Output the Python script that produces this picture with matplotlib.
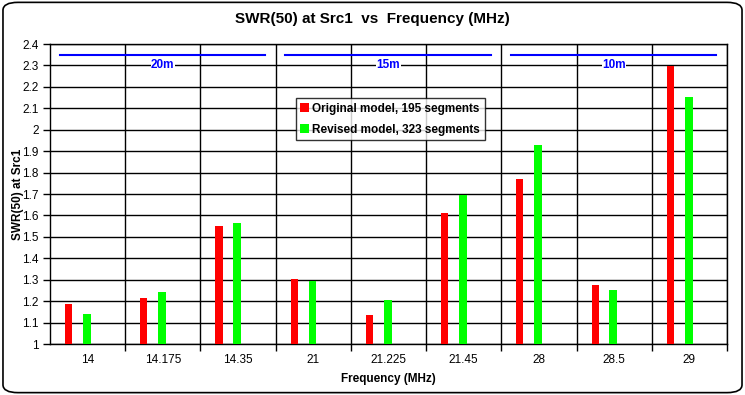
import numpy as np
import matplotlib.pyplot as plt
from matplotlib.patches import FancyBboxPatch

# --- DATA ---------------------------------------------------------------------
freqs    = ["14", "14.175", "14.35", "21", "21.225", "21.45", "28", "28.5", "29"]
original = [1.187, 1.215, 1.551, 1.303, 1.135, 1.611, 1.770, 1.275, 2.299]
revised  = [1.140, 1.243, 1.566, 1.296, 1.205, 1.697, 1.929, 1.252, 2.153]
bands    = ["20m", "15m", "10m"]
band_idx = [(0, 2), (3, 5), (6, 8)]

# --- STYLE --------------------------------------------------------------------
plt.rcParams["font.family"] = ["Liberation Sans", "DejaVu Sans"]

fig = plt.figure(figsize=(7.45, 3.95), dpi=100)
ax  = fig.add_axes([0.0671, 0.1291, 0.9087, 0.7595])

x = np.arange(len(freqs))
ax.bar(x - 0.253, [v - 1 for v in original], bottom=1, width=0.095,
       color="#FF0000", label="Original model, 195 segments", zorder=3)
ax.bar(x - 0.01, [v - 1 for v in revised], bottom=1, width=0.105,
       color="#00FF00", label="Revised model, 323 segments", zorder=3)

# band markers
for name, (i0, i1) in zip(bands, band_idx):
    ax.plot([i0 - 0.37, i1 + 0.36], [2.35, 2.35], color="#0000FF", lw=1.5, zorder=4)
    ax.text((i0 + i1) / 2, 2.3, name, color="#0000FF", fontsize=8.5, fontweight="bold",
            ha="center", va="center", zorder=4,
            bbox=dict(facecolor="white", edgecolor="none", pad=0.3))

ax.set_xlim(-0.5, len(freqs) - 0.5)
ax.set_ylim(1, 2.4)
ax.set_yticks(np.arange(1, 2.41, 0.1))
ax.set_yticklabels([f"{v:g}" for v in np.round(np.arange(1, 2.41, 0.1), 1)], fontsize=8.5)

ax.set_xticks(x + 0.5)
ax.set_xticklabels([])
ax.set_xticks(x, minor=True)
ax.set_xticklabels(freqs, minor=True, fontsize=8.5)
ax.tick_params(axis="x", which="minor", length=0, pad=7)
ax.tick_params(axis="x", which="major", length=5, width=1, direction="out")
ax.tick_params(axis="y", length=5, width=1, direction="out", pad=3)

ax.grid(True, axis="y", color="black", lw=1, zorder=1)
ax.grid(True, axis="x", which="major", color="black", lw=1, zorder=1)
for s in ax.spines.values():
    s.set_linewidth(1)

ax.set_xlabel("Frequency (MHz)", fontsize=8.5, fontweight="bold", labelpad=5)
ax.set_ylabel("SWR(50) at Src1", fontsize=8.5, fontweight="bold", labelpad=-1)
fig.text(0.5, 0.952, "SWR(50) at Src1  vs  Frequency (MHz)", ha="center", va="center",
         fontsize=11, fontweight="bold")

leg = ax.legend(loc="upper left", bbox_to_anchor=(0.363, 0.82),
                prop={"weight": "bold", "size": 8.5}, frameon=True, fancybox=False,
                edgecolor="black", handlelength=0.7, handleheight=0.7,
                handletextpad=0.3, borderpad=0.4, labelspacing=0.75, borderaxespad=0)
leg.get_frame().set_linewidth(1)
leg.set_zorder(5)

border = FancyBboxPatch((0.004, 0.006), 0.992, 0.988, transform=fig.transFigure,
                        boxstyle="round,pad=0,rounding_size=0.02", fill=False,
                        edgecolor="black", lw=1.2)
fig.patches.append(border)

plt.savefig("out.png", dpi=100)
